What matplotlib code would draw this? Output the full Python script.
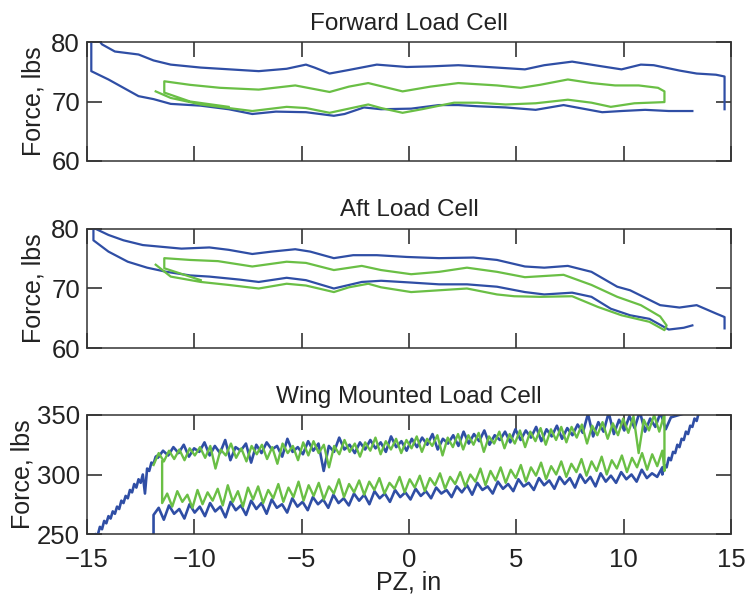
import numpy as np
import matplotlib
matplotlib.use("Agg")
import matplotlib.pyplot as plt

# --- data (PZ in inches, force in lbs) ---

# Forward load cell
fwd_blue_x = [13.2, 12.1, 11.0, 9.9, 9.0, 8.1, 7.2, 5.9, 4.5, 3.2, 2.3, 1.4, 0.1, -1.3,
              -2.1, -3.0, -3.5, -4.8, -6.2, -7.3, -8.4, -9.7, -11.1, -11.9, -12.6, -13.3,
              -14.0, -14.8, -14.8, -14.5,
              -14.3, -13.7, -12.6, -11.9, -11.1, -9.7, -7.9, -7.0, -5.7, -4.8, -4.4, -3.7,
              -2.8, -1.5, -0.1, 1.0, 2.3, 4.1, 5.4, 6.3, 7.6, 9.0, 9.9, 10.8, 11.4, 12.6,
              13.4, 14.3, 14.7, 14.7]
fwd_blue_y = [68.4, 68.4, 68.6, 68.4, 68.2, 68.8, 69.4, 68.6, 69.0, 69.2, 69.4, 69.4, 68.8, 68.7,
              69.0, 67.9, 67.6, 68.2, 68.3, 67.9, 68.7, 69.3, 69.6, 70.4, 70.9, 72.3,
              73.7, 75.1, 80.5, 80.5,
              79.6, 78.4, 77.9, 76.9, 76.2, 75.7, 75.3, 75.1, 75.5, 76.2, 75.7, 74.7,
              75.3, 76.2, 75.8, 75.9, 76.1, 75.7, 75.4, 76.1, 76.7, 75.9, 75.4, 76.2, 76.1, 75.2,
              74.7, 74.5, 74.2, 68.7]
fwd_green_x = [-11.8, -11.1, -9.7, -8.4, -7.3, -5.7, -4.8, -3.7, -2.8, -1.9, -1.3, -0.3, 0.6,
               2.1, 3.2, 4.5, 5.9, 7.4, 8.5, 9.4, 10.5, 11.9, 11.9, 11.6, 10.7, 9.6, 8.5,
               7.4, 6.1, 5.2, 4.1, 2.3, 1.0, -0.3, -1.9, -2.8, -3.7, -5.3, -7.0, -8.8,
               -10.2, -11.4, -11.4, -10.2, -8.4]
fwd_green_y = [71.7, 70.6, 69.5, 68.9, 68.4, 69.1, 68.9, 68.1, 68.8, 69.5, 68.9, 68.1, 68.7,
               69.8, 69.8, 69.5, 69.7, 70.3, 69.8, 69.1, 69.7, 69.9, 71.7, 72.3, 72.7, 72.7, 73.1,
               73.7, 72.8, 72.3, 72.7, 73.1, 72.5, 71.7, 73.1, 72.5, 71.6, 72.7, 72.0, 72.3,
               72.8, 73.4, 71.5, 70.0, 69.1]

# Aft load cell
aft_blue_x = [13.2, 12.8, 12.1, 11.2, 10.3, 9.4, 8.5, 7.6, 6.3, 5.4, 4.1, 2.7, 1.4, 0.1,
              -1.3, -2.2, -3.5, -4.8, -5.7, -7.0, -7.9, -9.3, -10.2, -11.3, -12.2, -13.1,
              -14.0, -14.7, -14.7,
              -14.0, -13.3, -12.4, -11.5, -10.6, -9.3, -8.4, -7.3, -6.4, -5.3, -4.6, -3.5,
              -2.6, -1.5, -0.1, 1.4, 3.0, 4.1, 5.4, 6.3, 7.4, 8.5, 9.7, 10.3, 11.7, 12.6,
              13.4, 14.3, 14.7, 14.7]
aft_blue_y = [63.8, 63.4, 63.1, 64.9, 65.5, 66.6, 68.6, 69.3, 69.0, 69.4, 70.3, 70.7, 70.7, 71.0,
              71.3, 71.1, 70.0, 71.4, 71.8, 71.1, 71.5, 72.0, 72.2, 72.8, 73.5, 74.5,
              76.2, 78.1, 80.2,
              79.0, 78.1, 77.3, 77.0, 76.7, 76.9, 76.5, 75.8, 76.2, 76.6, 76.2, 75.1,
              75.6, 75.6, 75.3, 75.1, 75.2, 74.8, 73.7, 73.5, 73.8, 72.8, 70.3, 69.7, 67.2, 66.8,
              67.2, 65.8, 65.2, 63.3]
aft_green_x = [-11.8, -11.1, -9.7, -8.4, -7.0, -5.7, -4.8, -3.5, -2.8, -1.9, -1.3, 0.1, 1.4,
               2.7, 4.1, 4.9, 6.1, 7.6, 8.8, 9.9, 11.2, 11.9, 12.0, 11.7, 10.8, 9.7, 8.5,
               7.2, 6.3, 5.4, 4.1, 2.7, 1.4, 0.1, -1.3, -2.2, -3.5, -4.8, -5.7, -7.3, -8.9,
               -10.2, -11.4, -11.4, -9.7]
aft_green_y = [74.0, 72.0, 71.1, 70.6, 70.0, 70.8, 70.5, 69.4, 70.2, 70.8, 70.2, 69.4, 69.7,
               70.0, 69.0, 68.7, 68.6, 68.7, 66.9, 65.5, 64.4, 63.0, 63.8, 65.3, 67.2, 68.6, 70.6,
               72.3, 72.1, 71.9, 72.8, 73.5, 72.8, 72.4, 73.1, 73.8, 73.1, 74.3, 74.5, 73.7, 74.6,
               74.8, 75.1, 73.4, 71.4]

# Wing mounted load cell (noisy bands, sampled evenly along PZ)
wing_green_upper = [308, 318, 311, 320, 313, 321, 312, 322, 316, 323,
                    314, 324, 305, 321, 316, 326, 314, 322, 311, 324,
                    317, 325, 313, 323, 309, 326, 318, 324, 312, 327,
                    316, 328, 318, 325, 306, 324, 317, 329, 319, 326,
                    315, 327, 320, 331, 317, 328, 321, 330, 318, 329,
                    322, 332, 319, 330, 324, 333, 316, 331, 323, 334,
                    321, 333, 325, 335, 319, 332, 326, 336, 322, 334,
                    326, 337, 323, 336, 328, 339, 325, 338, 329, 340,
                    327, 340, 331, 342, 326, 341, 333, 344, 330, 343,
                    333, 347, 335, 349, 318, 346, 337, 350, 336, 351]
wing_green_lower = [276, 284, 273, 286, 277, 283, 272, 287, 275, 285,
                    278, 288, 274, 291, 277, 286, 273, 289, 279, 290,
                    276, 287, 280, 292, 277, 289, 281, 294, 278, 291,
                    282, 293, 279, 290, 284, 296, 281, 292, 285, 295,
                    283, 294, 287, 297, 284, 293, 288, 298, 285, 296,
                    289, 299, 286, 297, 291, 301, 288, 298, 292, 302,
                    290, 300, 294, 305, 291, 303, 295, 306, 293, 304,
                    297, 308, 294, 306, 299, 310, 296, 307, 300, 311,
                    298, 309, 302, 313, 299, 311, 303, 315, 300, 312,
                    305, 316, 302, 314, 306, 318, 304, 317, 307, 320]
wing_blue_upper = [314, 320, 316, 323, 318, 325, 315, 322, 319, 327,
                   316, 324, 318, 329, 312, 323, 320, 326, 310, 325,
                   318, 327, 321, 324, 315, 330, 319, 323, 317, 328,
                   320, 326, 303, 324, 319, 331, 321, 325, 318, 327,
                   321, 329, 322, 327, 319, 332, 323, 328, 320, 330,
                   323, 331, 325, 334, 321, 330, 326, 333, 324, 336,
                   326, 334, 328, 337, 325, 333, 329, 336, 327, 338,
                   329, 337, 331, 340, 328, 338, 332, 341, 330, 339,
                   333, 342, 335, 351, 332, 344, 336, 352, 334, 346,
                   337, 349, 339, 353, 336, 347, 340, 352, 338, 348]
wing_blue_lower = [266, 272, 262, 274, 267, 271, 263, 275, 268, 273,
                   265, 276, 269, 273, 264, 277, 270, 274, 266, 278,
                   271, 276, 267, 279, 272, 275, 268, 280, 273, 277,
                   270, 281, 275, 279, 272, 283, 276, 280, 274, 284,
                   278, 283, 275, 286, 280, 284, 277, 287, 281, 285,
                   279, 288, 282, 286, 280, 289, 284, 287, 281, 290,
                   285, 291, 283, 293, 287, 290, 284, 294, 288, 292,
                   286, 296, 290, 293, 287, 297, 291, 295, 288, 298,
                   292, 297, 289, 300, 293, 298, 290, 301, 294, 299,
                   293, 302, 296, 300, 294, 304, 297, 301, 298, 306]
ramp_left_x = [-14.7, -14.6, -14.5, -14.4, -14.3, -14.2, -14.1, -14.0, -13.9, -13.8, -13.7,
               -13.6, -13.5, -13.4, -13.3, -13.2, -13.1, -13.0, -12.9, -12.8, -12.7, -12.6,
               -12.5, -12.4, -12.3, -12.2, -12.1, -12.0, -11.9, -11.8, -11.7]
ramp_left_y = [244, 250, 249, 256, 254, 261, 259, 265, 263, 269, 267, 273, 271, 278, 276, 282,
               280, 287, 285, 292, 289, 296, 293, 300, 284, 305, 303, 310, 309, 315, 316]
ramp_right_x = [11.8, 11.9, 12.0, 12.1, 12.2, 12.3, 12.4, 12.5, 12.6, 12.7, 12.8, 12.9, 13.0,
                13.1, 13.2, 13.3, 13.4, 13.5, 13.7]
ramp_right_y = [300, 308, 306, 314, 312, 319, 318, 325, 323, 330, 329, 336, 334, 341, 340,
                347, 345, 352, 356]

blue = '#2f4ea5'
green = '#6abf45'
ink = '#222222'

# build the wing traces: each band sampled evenly across its PZ span
gu_x = np.linspace(-11.9, 11.9, len(wing_green_upper))
gl_x = np.linspace(-11.5, 11.8, len(wing_green_lower))
bu_x = np.linspace(-11.7, 12.2, len(wing_blue_upper))
bl_x = np.linspace(-11.9, 11.8, len(wing_blue_lower))

wing_green_x = np.concatenate([gu_x, [11.9], gl_x[::-1], [-11.5]])
wing_green_y = np.concatenate([wing_green_upper, [303], wing_green_lower[::-1], [311]])
wing_blue_x = np.concatenate([[-11.9], bl_x, ramp_right_x, bu_x[::-1], ramp_left_x[::-1]])
wing_blue_y = np.concatenate([[245], wing_blue_lower, ramp_right_y, wing_blue_upper[::-1],
                              ramp_left_y[::-1]])

plt.rcParams['font.family'] = ['Liberation Sans', 'DejaVu Sans']
plt.rcParams['axes.unicode_minus'] = True

fig = plt.figure(figsize=(7.48, 6.01), dpi=100)
left, width, height = 87 / 748, 644 / 748, 119 / 601
ax1 = fig.add_axes([left, 1 - 161 / 601, width, height])
ax2 = fig.add_axes([left, 1 - 348 / 601, width, height])
ax3 = fig.add_axes([left, 1 - 534 / 601, width, height])

lw = 1.6
ax1.plot(fwd_blue_x, fwd_blue_y, color=blue, lw=lw)
ax1.plot(fwd_green_x, fwd_green_y, color=green, lw=lw)
ax2.plot(aft_blue_x, aft_blue_y, color=blue, lw=lw)
ax2.plot(aft_green_x, aft_green_y, color=green, lw=lw)
ax3.plot(wing_blue_x, wing_blue_y, color=blue, lw=1.9)
ax3.plot(wing_green_x, wing_green_y, color=green, lw=1.7)

titles = ['Forward Load Cell', 'Aft Load Cell', 'Wing Mounted Load Cell']
for ax, t in zip([ax1, ax2, ax3], titles):
    ax.set_xlim(-15, 15)
    ax.set_xticks([-15, -10, -5, 0, 5, 10, 15])
    ax.set_title(t, fontsize=17.5, pad=9, color=ink)
    ax.set_ylabel('Force, lbs', fontsize=18, color=ink)
    ax.yaxis.set_label_coords(-0.064, 0.5)
    ax.tick_params(direction='in', length=11, width=1.1, top=True, right=True,
                   labelsize=18.5, colors=ink, pad=5)
    ax.tick_params(axis='x', pad=10)
    for s in ax.spines.values():
        s.set_linewidth(1.1)
        s.set_color('#333333')

for ax in [ax1, ax2]:
    ax.set_ylim(60, 80)
    ax.set_yticks([60, 70, 80])
    ax.tick_params(labelbottom=False)

ax3.set_ylim(250, 350)
ax3.set_yticks([250, 300, 350])
ax3.yaxis.set_label_coords(-0.082, 0.5)
ax3.set_xlabel('PZ, in', fontsize=18, color=ink)
ax3.xaxis.set_label_coords(0.5, -0.31)

fig.savefig('out.png', dpi=100)
